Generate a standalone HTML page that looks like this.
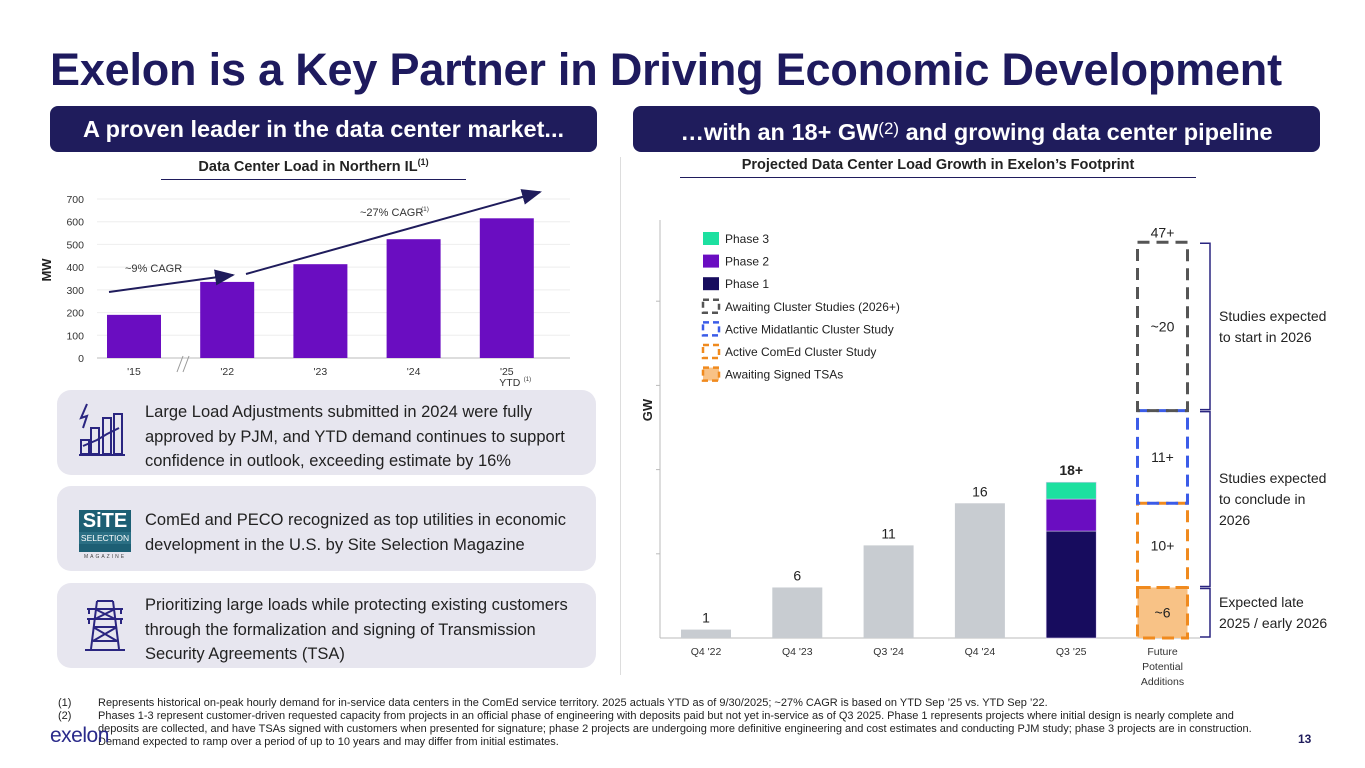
<!DOCTYPE html>
<html><head><meta charset="utf-8"><style>
*{margin:0;padding:0;box-sizing:border-box}
body{width:1365px;height:768px;background:#fff;font-family:"Liberation Sans",Arial,sans-serif;position:relative;overflow:hidden;color:#222}
.abs{position:absolute}
.title{left:50px;top:44px;font-size:45px;font-weight:bold;color:#1e1a5e;letter-spacing:-0.2px;white-space:nowrap}
.banner{top:106px;height:46px;background:#1f1c5c;border-radius:8px;color:#fff;font-weight:bold;font-size:23.5px;line-height:46px;text-align:center;white-space:nowrap}
.sub{font-weight:bold;font-size:14.5px;color:#222;text-align:center;white-space:nowrap}
.box{left:57px;width:539px;background:#e7e6ef;border-radius:14px}
.box p{position:absolute;left:88px;font-size:16.5px;line-height:24.5px;color:#222}
.foot{font-size:11px;line-height:13px;color:#222}
</style></head><body>
<div class="abs title">Exelon is a Key Partner in Driving Economic Development</div>
<div class="abs banner" style="left:50px;width:547px">A proven leader in the data center market...</div>
<div class="abs banner" style="left:633px;width:687px">…with an 18+ GW<span style="font-weight:normal;font-size:17px;vertical-align:6px">(2)</span> and growing data center pipeline</div>
<div class="abs sub" style="left:161px;width:305px;top:157px;border-bottom:1.5px solid #1f1c5c;padding-bottom:4px">Data Center Load in Northern IL<sup style="font-size:9px">(1)</sup></div>
<div class="abs sub" style="left:680px;width:516px;top:157px;border-bottom:1.5px solid #1f1c5c;padding-bottom:4px">Projected Data Center Load Growth in Exelon’s Footprint</div>
<div class="abs" style="left:620px;top:157px;width:1px;height:518px;background:#ddd"></div>

<svg class="abs" style="left:0;top:0" width="1365" height="768" id="charts">
<defs><marker id="ah" markerWidth="10" markerHeight="8" refX="9" refY="4" orient="auto"><path d="M0,0 L10,4 L0,8 z" fill="#1f1c5c"/></marker></defs>
<g id="left"></g><g id="right"></g>
</svg>

<div class="abs box" style="top:390px;height:85px">
<svg class="abs" style="left:20px;top:12px" width="52" height="56"><g fill="none" stroke="#2a2580" stroke-width="2"><path d="M10,2 L4,16 L10,14 L6,26"/><rect x="4" y="38" width="8" height="14"/><rect x="14" y="26" width="8" height="26"/><rect x="26" y="16" width="8" height="36"/><rect x="37" y="12" width="8" height="40"/><path d="M2,53 H48"/><path d="M6,44 L20,38 L30,32 L42,26"/></g></svg>
<p style="top:10px">Large Load Adjustments submitted in 2024 were fully<br>approved by PJM, and YTD demand continues to support<br>confidence in outlook, exceeding estimate by 16%</p></div>
<div class="abs box" style="top:486px;height:85px">
<div class="abs" style="left:22px;top:24px;width:52px;height:42px;background:#1d5f74;color:#fff;text-align:center;font-weight:bold;font-size:20px;line-height:22px">SiTE<div style="font-size:8.5px;font-weight:normal;line-height:12px;background:#2b6f84">SELECTION</div></div>
<div class="abs" style="left:22px;top:68px;width:52px;font-size:5px;letter-spacing:2px;text-align:center;color:#444">MAGAZINE</div>
<p style="top:22px">ComEd and PECO recognized as top utilities in economic<br>development in the U.S. by Site Selection Magazine</p></div>
<div class="abs box" style="top:583px;height:85px">
<svg class="abs" style="left:26px;top:14px" width="44" height="56"><g fill="none" stroke="#2a2580" stroke-width="2"><path d="M14,4 L30,4 M4,12 H40 M4,22 H40 M14,4 L8,52 M30,4 L36,52 M2,53 H42 M12,12 L32,22 M32,12 L12,22 M10,30 L34,44 M34,30 L10,44 M10,30 H34 M10,44 H34 M6,12 V17 M38,12 V17 M6,22 V27 M38,22 V27"/></g></svg>
<p style="top:10px">Prioritizing large loads while protecting existing customers<br>through the formalization and signing of Transmission<br>Security Agreements (TSA)</p></div>

<div class="abs foot" style="left:58px;top:697px;width:1215px">
<div style="position:relative;padding-left:40px"><span style="position:absolute;left:0">(1)</span>Represents historical on-peak hourly demand for in-service data centers in the ComEd service territory. 2025 actuals YTD as of 9/30/2025; ~27% CAGR is based on YTD Sep ’25 vs. YTD Sep ’22.</div>
<div style="position:relative;padding-left:40px"><span style="position:absolute;left:0">(2)</span>Phases 1-3 represent customer-driven requested capacity from projects in an official phase of engineering with deposits paid but not yet in-service as of Q3 2025. Phase 1 represents projects where initial design is nearly complete and deposits are collected, and have TSAs signed with customers when presented for signature; phase 2 projects are undergoing more definitive engineering and cost estimates and conducting PJM study; phase 3 projects are in construction. Demand expected to ramp over a period of up to 10 years and may differ from initial estimates.</div></div>
<div class="abs" style="left:50px;top:724px;font-size:21px;color:#2a2a8a;letter-spacing:-0.5px">exelon</div>
<div class="abs" style="left:1298px;top:732px;font-size:12px;font-weight:bold;color:#1f1c5c">13</div>

<script>
const leftCats=["'15","'22","'23","'24","'25"];
const leftVals=[190,335,413,523,615];
const leftTicks=[0,100,200,300,400,500,600,700];
const rightCats=["Q4 '22","Q4 '23","Q3 '24","Q4 '24","Q3 '25"];
const rightTotals=[1,6,11,16,18];
const rightLabels=["1","6","11","16","18+"];
const phase1=[0,0,0,0,12.7];
const phase2=[0,0,0,0,3.8];
const phase3=[0,0,0,0,2.0];
const futureSegs=[6,10,11,20];
const futureLabels=["~6","10+","11+","~20"];
const futureTotalLabel="47+";
const NS="http://www.w3.org/2000/svg";
function mk(p,tag,attrs,txt){const e=document.createElementNS(NS,tag);for(const k in attrs)e.setAttribute(k,attrs[k]);if(txt!==undefined)e.textContent=txt;p.appendChild(e);return e;}
const L=document.getElementById('left');
const ly=v=>358-v*(159/700);
const lx=i=>134+i*93.2;
leftTicks.forEach(t=>{
 const g=mk(L,'line',{x1:97,x2:570,y1:ly(t),y2:ly(t),stroke:t===0?'#bbb':'#eee','stroke-width':1});
 
 
 const tx=mk(L,'text',{x:84,y:ly(t)+4,'text-anchor':'end','font-size':10.5,fill:'#333'},t);
 
 
});
const lyt=mk(L,'text',{x:0,y:0,transform:'translate(51,270) rotate(-90)','text-anchor':'middle','font-size':13,'font-weight':'bold',fill:'#222'},'MW');


leftVals.forEach((v,i)=>{
 const r=mk(L,'rect',{x:lx(i)-27,y:ly(v),width:54,height:ly(0)-ly(v),fill:'#6a0dc1'});
 
 
 const t=mk(L,'text',{x:lx(i),y:375,'text-anchor':'middle','font-size':10.5,fill:'#333'},leftCats[i]);
 
 
});
const ytd=mk(L,'text',{x:lx(4)+3,y:386,'text-anchor':'middle','font-size':10.5,fill:'#333'},'YTD');


mk(L,'text',{x:lx(4)+17,y:381,'font-size':6,fill:'#333'},'(1)');
const brk=mk(L,'path',{d:'M177,372 L183,356 M183,372 L189,356',stroke:'#999','stroke-width':1,fill:'none'});


const a1=mk(L,'line',{x1:109,y1:292,x2:233,y2:275,stroke:'#1f1c5c','stroke-width':2,'marker-end':'url(#ah)'});


const a2=mk(L,'line',{x1:246,y1:274,x2:540,y2:192,stroke:'#1f1c5c','stroke-width':2,'marker-end':'url(#ah)'});


const c1=mk(L,'text',{x:125,y:272,'font-size':11,fill:'#333'},'~9% CAGR');


const c2=mk(L,'text',{x:360,y:216,'font-size':11,fill:'#333'},'~27% CAGR');


mk(L,'text',{x:421,y:211,'font-size':6.5,fill:'#333'},'(1)');
const R=document.getElementById('right');
const ry=v=>638-v*8.42;
const rx=i=>706+i*91.3;
mk(R,'line',{x1:660,x2:660,y1:220,y2:638,stroke:'#bbb'});
[10,20,30,40].forEach(t=>mk(R,'line',{x1:656,x2:660,y1:ry(t),y2:ry(t),stroke:'#bbb'}));
const bl=mk(R,'line',{x1:660,x2:1200,y1:638,y2:638,stroke:'#bbb'});


const gw=mk(R,'text',{x:0,y:0,transform:'translate(652,410) rotate(-90)','text-anchor':'middle','font-size':13,'font-weight':'bold',fill:'#222'},'GW');


rightCats.forEach((c,i)=>{
 const x=rx(i)-25;
 if(phase1[i]+phase2[i]+phase3[i]>0){
  let b=0;
  [[phase1,'#170c5e','phase-1'],[phase2,'#6a0dc1','phase-2'],[phase3,'#1de0a0','phase-3']].forEach(([arr,col,nm])=>{
   const r=mk(R,'rect',{x:x,y:ry(b+arr[i]),width:50,height:ry(b)-ry(b+arr[i]),fill:col,stroke:'#d8c8f0','stroke-width':0.6});
   
   
   b+=arr[i];
  });
 } else {
  const r=mk(R,'rect',{x:x,y:ry(rightTotals[i]),width:50,height:ry(0)-ry(rightTotals[i]),fill:'#c8ccd1'});
  
  
 }
 const top=Math.max(rightTotals[i],phase1[i]+phase2[i]+phase3[i]);
 const l=mk(R,'text',{x:rx(i),y:ry(top)-7,'text-anchor':'middle','font-size':14,'font-weight':i===4?'bold':'normal',fill:'#222'},rightLabels[i]);
 
 
 const t=mk(R,'text',{x:rx(i),y:655,'text-anchor':'middle','font-size':10.5,fill:'#333'},c);
 
 
});
['Future','Potential','Additions'].forEach((s,k)=>{const t=mk(R,'text',{x:rx(5),y:655+k*15,'text-anchor':'middle','font-size':10.5,fill:'#333'},s);
 
 });
const segCols=['#f08a1e','#f08a1e','#3b5ce8','#555'];
let base=0;const fx=rx(5)-25;
futureSegs.forEach((v,k)=>{
 const y1=ry(base+v),y0=ry(base);
 const r=mk(R,'rect',{x:fx,y:y1,width:50,height:y0-y1,fill:k===0?'#f8c286':'none',stroke:segCols[k],'stroke-width':3,'stroke-dasharray':'12,7'});
 
 
 const t=mk(R,'text',{x:rx(5),y:(y0+y1)/2+5,'text-anchor':'middle','font-size':14,fill:'#222'},futureLabels[k]);
 
 
 base+=v;
});
const tot=mk(R,'text',{x:rx(5),y:ry(base)-5,'text-anchor':'middle','font-size':14,fill:'#222'},futureTotalLabel);


const brks=[[ry(0),ry(6),['Expected late','2025 / early 2026']],[ry(6),ry(27),['Studies expected','to conclude in','2026']],[ry(27),ry(47),['Studies expected','to start in 2026']]];
brks.forEach(([a,b,lines],k)=>{
 const p=mk(R,'path',{d:`M1200,${b+1} H1210 V${a-1} H1200`,stroke:'#2a2580','stroke-width':1.5,fill:'none'});
 
 
 const mid=(a+b)/2-(lines.length-1)*10.5+5;
 lines.forEach((s,j)=>{const t=mk(R,'text',{x:1219,y:mid+j*21,'font-size':14,fill:'#222'},s);
  
  });
});
const legend=[['Phase 3','#1de0a0',null],['Phase 2','#6a0dc1',null],['Phase 1','#170c5e',null],['Awaiting Cluster Studies (2026+)',null,'#555'],['Active Midatlantic Cluster Study',null,'#3b5ce8'],['Active ComEd Cluster Study',null,'#f08a1e'],['Awaiting Signed TSAs','#f8c286','#f08a1e']];
legend.forEach(([n,f,s],k)=>{
 const y=238+k*22.6;
 const r=mk(R,'rect',{x:703,y:y-6,width:16,height:13,fill:f||'none'});
 if(s){r.setAttribute('stroke',s);r.setAttribute('stroke-width',2.5);r.setAttribute('stroke-dasharray','6,4');}
 
 
 const t=mk(R,'text',{x:725,y:y+5,'font-size':12,fill:'#222'},n);
 
 
});
</script>
</body></html>
